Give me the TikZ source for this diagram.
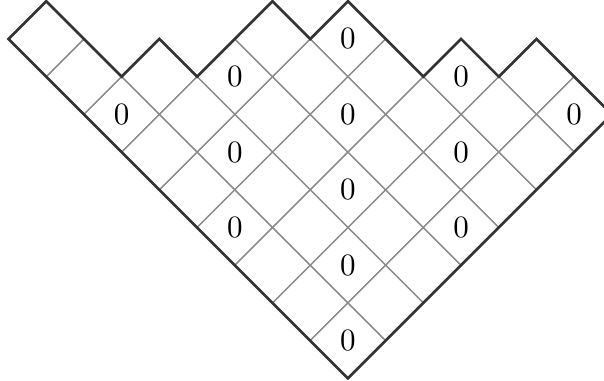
\documentclass[tikz,border=0pt]{standalone}
\usepackage{amsmath, amssymb}
\usepackage{tikz}
\usepackage{xcolor}
\definecolor{cRim}  {HTML}{333333}
\definecolor{cGrid} {HTML}{8C8C8C}

\begin{document}
\begin{tikzpicture}[
    cellline/.style={draw=cGrid, line width=0.4pt},
    rim/.style={draw=cRim, line width=0.85pt, line join=miter},
    zero/.style={inner sep=0pt},
  ]
        \useasboundingbox (-112.1pt, -0.6pt) rectangle (82.5pt, 121.9pt);
        \begin{scope}[x={(12.15pt,12.15pt)}, y={(-12.15pt,12.15pt)}]
          % row lengths, bottom row first
          \foreach \len [count=\b from 0] in {7,7,6,5,5,4,2,1,1} {
            \foreach \a in {1,...,\len} {
              \draw[cellline] (\a-1,\b) -- ++(1,0) -- ++(0,1) -- ++(-1,0) -- cycle;
            }
          }
          \draw[rim] (0,0) -- (7,0) -- (7,2) -- (6,2) -- (6,3) -- (5,3) -- (5,5)
                -- (4,5) -- (4,6) -- (2,6) -- (2,7) -- (1,7) -- (1,9) -- (0,9) -- cycle;
          % cells with content divisible by 3
          \foreach \a/\b in {0/0,3/0,6/0,1/1,4/1,2/2,5/2,0/3,3/3,1/4,4/4,2/5,0/6} {
            \node[zero] (z-\a-\b) at (\a+.5,\b+.5) {$0$};
          }
        \end{scope}
      \end{tikzpicture}
\end{document}
